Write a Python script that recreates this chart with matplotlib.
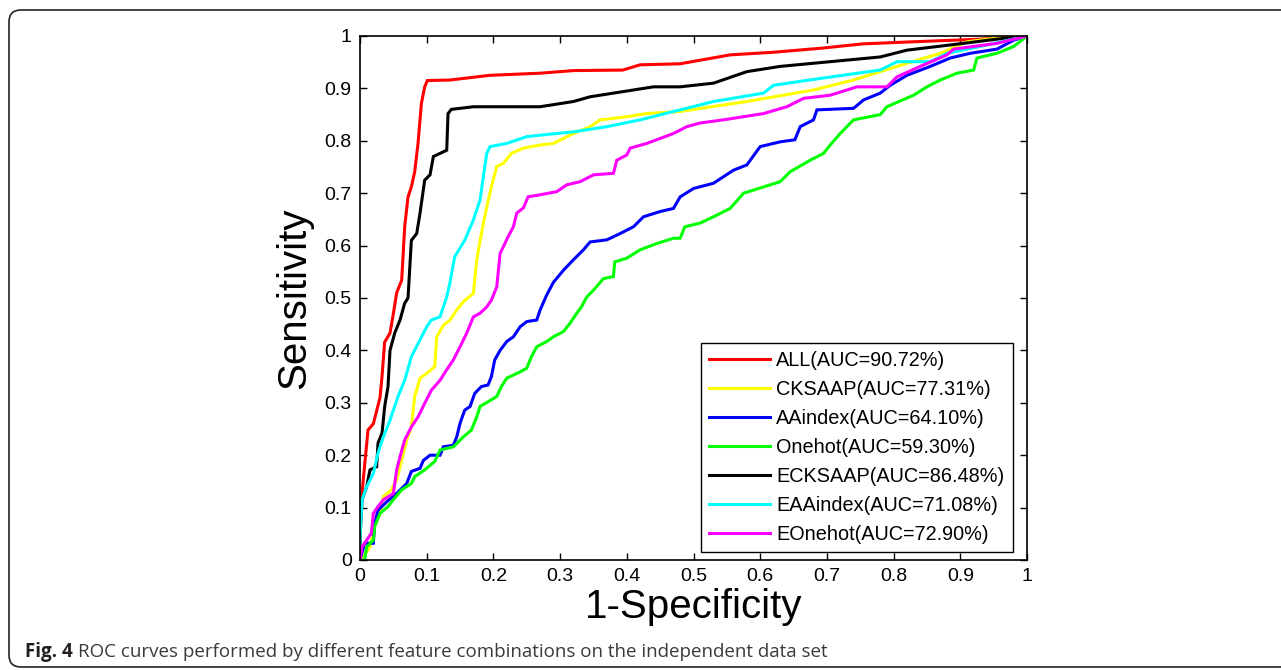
import matplotlib
matplotlib.use("Agg")
import matplotlib.pyplot as plt
from matplotlib.patches import FancyBboxPatch

# ROC curves (FPR, TPR)
all_fpr = [0, 0.0, 0.003, 0.012, 0.02, 0.03, 0.033, 0.037, 0.045, 0.05, 0.055, 0.0625,
           0.067, 0.072, 0.077, 0.082, 0.087, 0.092, 0.097, 0.101, 0.135, 0.195, 0.27,
           0.32, 0.394, 0.42, 0.48, 0.555, 0.62, 0.694, 0.754, 0.83, 0.93, 1.0]
all_tpr = [0, 0.057, 0.128, 0.248, 0.26, 0.31, 0.35, 0.416, 0.433, 0.47, 0.51, 0.534,
           0.636, 0.693, 0.712, 0.741, 0.795, 0.871, 0.903, 0.915, 0.916, 0.925, 0.929,
           0.934, 0.935, 0.945, 0.947, 0.964, 0.969, 0.977, 0.985, 0.989, 0.994, 1.0]

cks_fpr = [0, 0.005, 0.015, 0.022, 0.03, 0.035, 0.047, 0.055, 0.0625, 0.07, 0.077, 0.082,
           0.09, 0.1, 0.112, 0.115, 0.125, 0.135, 0.145, 0.155, 0.17, 0.175, 0.182, 0.19,
           0.197, 0.205, 0.215, 0.227, 0.245, 0.27, 0.29, 0.32, 0.345, 0.36, 0.395, 0.43,
           0.48, 0.58, 0.68, 0.74, 0.805, 0.87, 0.91, 0.955, 1.0]
cks_tpr = [0, 0.006, 0.025, 0.064, 0.089, 0.121, 0.134, 0.153, 0.19, 0.229, 0.254, 0.312,
           0.347, 0.356, 0.369, 0.426, 0.448, 0.458, 0.477, 0.493, 0.509, 0.573, 0.623, 0.674,
           0.712, 0.751, 0.757, 0.776, 0.786, 0.792, 0.795, 0.814, 0.827, 0.84, 0.845, 0.852,
           0.856, 0.875, 0.897, 0.916, 0.942, 0.967, 0.989, 0.996, 1.0]

aai_fpr = [0, 0.007, 0.02, 0.022, 0.027, 0.04, 0.055, 0.07, 0.077, 0.09, 0.095, 0.105,
           0.12, 0.125, 0.14, 0.145, 0.15, 0.157, 0.165, 0.172, 0.182, 0.192, 0.197, 0.202,
           0.21, 0.22, 0.23, 0.24, 0.25, 0.265, 0.27, 0.28, 0.29, 0.305, 0.32, 0.335, 0.345,
           0.37, 0.39, 0.41, 0.425, 0.45, 0.47, 0.48, 0.5, 0.53, 0.56, 0.58, 0.6, 0.63,
           0.652, 0.66, 0.68, 0.685, 0.74, 0.755, 0.78, 0.795, 0.82, 0.855, 0.885, 0.915,
           0.955, 0.98, 1.0]
aai_tpr = [0, 0.032, 0.032, 0.07, 0.095, 0.111, 0.127, 0.146, 0.169, 0.175, 0.19, 0.2,
           0.2, 0.216, 0.219, 0.235, 0.261, 0.286, 0.293, 0.318, 0.331, 0.334, 0.35, 0.382,
           0.4, 0.417, 0.426, 0.445, 0.455, 0.458, 0.477, 0.506, 0.53, 0.553, 0.573, 0.592,
           0.607, 0.611, 0.623, 0.636, 0.655, 0.665, 0.671, 0.693, 0.709, 0.719, 0.744,
           0.754, 0.789, 0.798, 0.802, 0.827, 0.84, 0.859, 0.862, 0.878, 0.891, 0.906,
           0.925, 0.942, 0.958, 0.967, 0.975, 0.992, 1.0]

oh_fpr = [0, 0.007, 0.01, 0.02, 0.022, 0.03, 0.042, 0.05, 0.0625, 0.077, 0.082, 0.097,
          0.112, 0.12, 0.14, 0.155, 0.167, 0.175, 0.18, 0.192, 0.205, 0.212, 0.22, 0.24,
          0.25, 0.257, 0.265, 0.28, 0.29, 0.305, 0.315, 0.325, 0.332, 0.34, 0.35, 0.365,
          0.38, 0.382, 0.4, 0.42, 0.445, 0.47, 0.48, 0.487, 0.51, 0.53, 0.555, 0.575, 0.605,
          0.63, 0.645, 0.675, 0.695, 0.705, 0.72, 0.74, 0.78, 0.79, 0.83, 0.85, 0.87, 0.895,
          0.92, 0.925, 0.955, 0.98, 1.0]
oh_tpr = [0, 0.0, 0.025, 0.038, 0.064, 0.089, 0.102, 0.115, 0.134, 0.146, 0.159, 0.172,
          0.188, 0.21, 0.216, 0.235, 0.248, 0.273, 0.293, 0.302, 0.312, 0.331, 0.347, 0.359,
          0.366, 0.388, 0.407, 0.417, 0.426, 0.436, 0.452, 0.471, 0.483, 0.502, 0.515, 0.537,
          0.541, 0.569, 0.576, 0.592, 0.604, 0.614, 0.614, 0.636, 0.643, 0.655, 0.671, 0.7,
          0.712, 0.722, 0.741, 0.763, 0.776, 0.792, 0.814, 0.84, 0.85, 0.865, 0.887, 0.903,
          0.916, 0.929, 0.935, 0.958, 0.967, 0.98, 1.0]

eck_fpr = [0, 0.0, 0.003, 0.01, 0.015, 0.025, 0.027, 0.033, 0.037, 0.042, 0.045, 0.052,
           0.06, 0.067, 0.072, 0.077, 0.085, 0.09, 0.097, 0.105, 0.11, 0.12, 0.13, 0.132,
           0.137, 0.17, 0.27, 0.32, 0.345, 0.395, 0.44, 0.48, 0.53, 0.58, 0.63, 0.705, 0.78,
           0.82, 0.905, 0.955, 1.0]
eck_tpr = [0, 0.04, 0.115, 0.14, 0.172, 0.178, 0.223, 0.242, 0.293, 0.331, 0.4, 0.433,
           0.458, 0.49, 0.5, 0.61, 0.623, 0.662, 0.725, 0.735, 0.77, 0.776, 0.782, 0.852,
           0.86, 0.865, 0.865, 0.875, 0.884, 0.894, 0.903, 0.903, 0.91, 0.932, 0.942, 0.951,
           0.96, 0.973, 0.986, 0.994, 1.0]

eaa_fpr = [0, 0.0, 0.003, 0.01, 0.02, 0.027, 0.035, 0.045, 0.057, 0.067, 0.077, 0.087,
           0.1, 0.107, 0.12, 0.13, 0.135, 0.142, 0.157, 0.17, 0.18, 0.185, 0.19, 0.195,
           0.22, 0.25, 0.295, 0.32, 0.37, 0.42, 0.47, 0.48, 0.53, 0.605, 0.62, 0.69, 0.78,
           0.805, 0.855, 0.88, 0.93, 1.0]
eaa_tpr = [0, 0.04, 0.115, 0.14, 0.165, 0.204, 0.235, 0.267, 0.312, 0.343, 0.388, 0.413,
           0.445, 0.458, 0.464, 0.502, 0.53, 0.579, 0.61, 0.649, 0.687, 0.732, 0.776, 0.789,
           0.795, 0.808, 0.814, 0.817, 0.827, 0.84, 0.856, 0.859, 0.875, 0.891, 0.906,
           0.919, 0.935, 0.951, 0.951, 0.967, 0.98, 1.0]

eoh_fpr = [0, 0.003, 0.01, 0.017, 0.02, 0.027, 0.035, 0.05, 0.055, 0.06, 0.067, 0.077,
           0.087, 0.097, 0.107, 0.12, 0.13, 0.14, 0.15, 0.16, 0.17, 0.18, 0.19, 0.197, 0.205,
           0.21, 0.215, 0.222, 0.23, 0.235, 0.245, 0.252, 0.27, 0.295, 0.31, 0.33, 0.35,
           0.38, 0.385, 0.4, 0.405, 0.43, 0.47, 0.49, 0.51, 0.545, 0.605, 0.64, 0.665, 0.705,
           0.745, 0.79, 0.805, 0.84, 0.88, 0.89, 0.955, 1.0]
eoh_tpr = [0, 0.025, 0.038, 0.051, 0.089, 0.102, 0.115, 0.127, 0.172, 0.197, 0.229, 0.254,
           0.273, 0.299, 0.324, 0.343, 0.363, 0.382, 0.407, 0.433, 0.464, 0.471, 0.483,
           0.496, 0.521, 0.585, 0.598, 0.617, 0.636, 0.662, 0.672, 0.693, 0.697, 0.703,
           0.716, 0.722, 0.735, 0.738, 0.763, 0.773, 0.786, 0.795, 0.814, 0.827, 0.834,
           0.84, 0.852, 0.865, 0.881, 0.887, 0.903, 0.903, 0.922, 0.942, 0.964, 0.975,
           0.986, 1.0]

labels = ["ALL(AUC=90.72%)", "CKSAAP(AUC=77.31%)", "AAindex(AUC=64.10%)",
          "Onehot(AUC=59.30%)", "ECKSAAP(AUC=86.48%)", "EAAindex(AUC=71.08%)",
          "EOnehot(AUC=72.90%)"]
colors = ["#ff0000", "#ffff00", "#0000ff", "#00ff00", "#000000", "#00ffff", "#ff00ff"]
curves = [(all_fpr, all_tpr), (cks_fpr, cks_tpr), (aai_fpr, aai_tpr), (oh_fpr, oh_tpr),
          (eck_fpr, eck_tpr), (eaa_fpr, eaa_tpr), (eoh_fpr, eoh_tpr)]

ticks = [0, 0.1, 0.2, 0.3, 0.4, 0.5, 0.6, 0.7, 0.8, 0.9, 1]
tick_labels = ["0", "0.1", "0.2", "0.3", "0.4", "0.5", "0.6", "0.7", "0.8", "0.9", "1"]

plt.rcParams["font.family"] = ["Liberation Sans", "DejaVu Sans"]

fig = plt.figure(figsize=(12.81, 6.70), dpi=100)
ax = fig.add_axes([360 / 1281, 1 - 560 / 670, 667 / 1281, 524 / 670])

for (fpr, tpr), lab, col in zip(curves, labels, colors):
    ax.plot(fpr, tpr, color=col, lw=2.2, label=lab, solid_joinstyle="miter")

ax.set_xlim(0, 1)
ax.set_ylim(0, 1)
ax.set_xticks(ticks)
ax.set_xticklabels(tick_labels)
ax.set_yticks(ticks)
ax.set_yticklabels(tick_labels)
ax.tick_params(direction="in", top=True, right=True, length=5, width=1,
               labelsize=14, pad=6)
for sp in ax.spines.values():
    sp.set_linewidth(1.2)

ax.set_xlabel("1-Specificity", fontsize=29, labelpad=2)
ax.set_ylabel("Sensitivity", fontsize=29, labelpad=8)

leg = ax.legend(loc="lower right", bbox_to_anchor=(0.979, 0.015), borderaxespad=0,
                fontsize=14.3, fancybox=False, edgecolor="black", framealpha=1,
                handlelength=3.1, handletextpad=0.3, labelspacing=0.5,
                borderpad=0.42)
leg.get_frame().set_linewidth(1.0)

# rounded frame around the figure, open past the right edge
frame = FancyBboxPatch((0.09, 0.03), 13.5, 6.57, boxstyle="round,pad=0,rounding_size=0.12",
                       transform=fig.dpi_scale_trans, fill=False, edgecolor="#222222",
                       lw=1.2, clip_on=False)
fig.patches.append(frame)

cap_font = ["Open Sans", "DejaVu Sans"]
t1 = fig.text(25 / 1281, 1 - 652 / 670, "Fig. 4", fontsize=13.5, fontweight="bold",
              family=cap_font, va="center", ha="left", color="#231f20")
fig.canvas.draw()
bb = t1.get_window_extent(renderer=fig.canvas.get_renderer())
fig.text(bb.x1 / 1281 + 5 / 1281, 1 - 652 / 670,
         "ROC curves performed by different feature combinations on the independent data set",
         fontsize=13.5, family=cap_font, va="center", ha="left", color="#3a3a3a")

fig.savefig("out.png", dpi=100)
